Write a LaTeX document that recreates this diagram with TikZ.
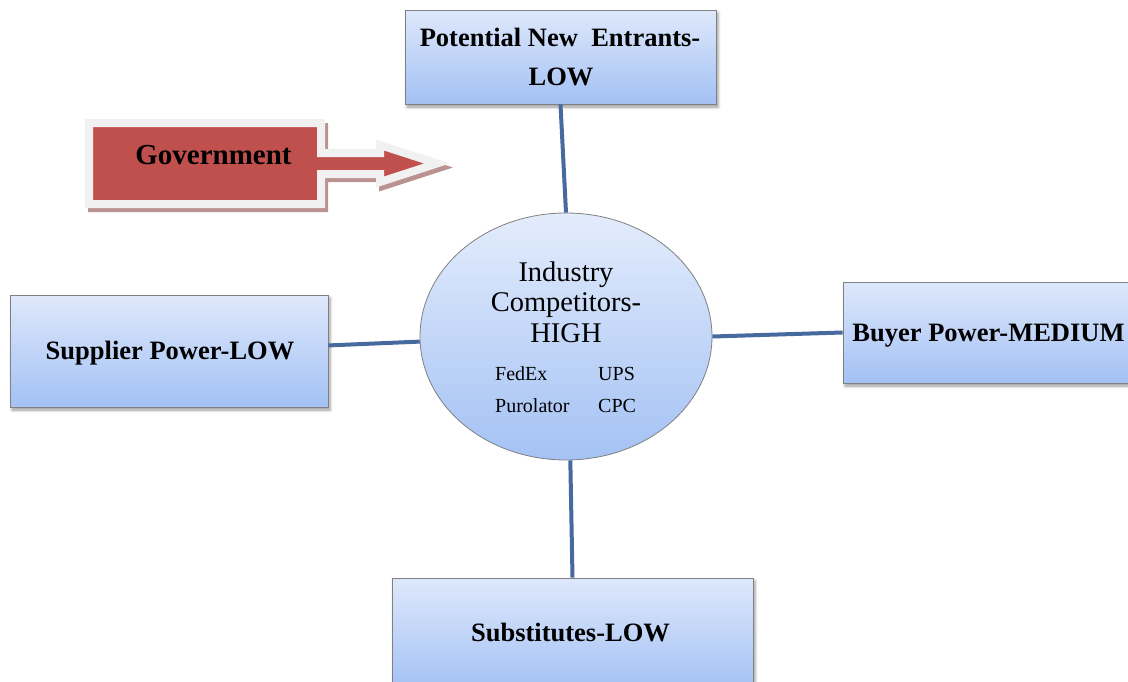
\documentclass[tikz,border=0pt]{standalone}
\usepackage{fontspec}
\setmainfont{Liberation Serif}
\usetikzlibrary{shapes.geometric,shadows.blur}
\definecolor{boxtop}{RGB}{222,232,251}
\definecolor{boxbot}{RGB}{163,193,244}
\definecolor{hubtop}{RGB}{227,236,252}
\definecolor{hubbot}{RGB}{164,194,244}
\definecolor{linkblue}{RGB}{70,106,158}
\definecolor{govred}{RGB}{192,80,77}
\definecolor{govrim}{RGB}{241,241,241}
\definecolor{govshade}{RGB}{186,146,146}
\definecolor{rimgrey}{RGB}{128,128,128}

\begin{document}
\begin{tikzpicture}[x=1pt,y=-1pt,
  forcebox/.style={rectangle, draw=rimgrey, line width=0.8pt,
    top color=boxtop, bottom color=boxbot, inner sep=0pt,
    blur shadow={shadow xshift=2pt, shadow yshift=-3pt,
      shadow blur radius=3pt, shadow opacity=40}},
  hub/.style={ellipse, draw=rimgrey, line width=0.8pt,
    top color=hubtop, bottom color=hubbot, inner sep=0pt},
  boldlabel/.style={anchor=base, inner sep=0pt,
    font=\fontsize{26.5}{38}\selectfont\bfseries},
  hublabel/.style={anchor=base, inner sep=0pt,
    font=\fontsize{28.5}{30}\selectfont},
  firmlabel/.style={anchor=base west, inner sep=0pt,
    font=\fontsize{20}{22}\selectfont},
  link/.style={draw=linkblue, line width=4pt}]
\useasboundingbox (0,0) rectangle (1128,681);
\clip (0,0) rectangle (1128,681);

% the five forces
\node[forcebox, minimum width=311pt, minimum height=94pt]  (entrants) at (560.5,57) {};
\node[forcebox, minimum width=318pt, minimum height=112pt] (supplier) at (169,351) {};
\node[forcebox, minimum width=300pt, minimum height=101pt] (buyer)    at (993,332.5) {};
\node[forcebox, minimum width=361pt, minimum height=112pt] (subst)    at (572.5,634) {};
\node[hub, minimum width=292pt, minimum height=247pt]      (hub)      at (566,336.5) {};

% spokes
\draw[link] (entrants.south) -- (hub.north);
\draw[link] (supplier.2) -- (hub.182);
\draw[link] (hub.east) -- (buyer.west);
\draw[link] (hub.-88) -- (subst.north);

% labels
\node[boldlabel] (entrantsA) at (560,46) {Potential New\ \ Entrants-};
\node[boldlabel] (entrantsB) at (561,85) {LOW};
\node[boldlabel] (supplierT) at (170,359) {Supplier Power-LOW};
\node[boldlabel] (buyerT) at (988.5,341) {Buyer Power-MEDIUM};
\node[boldlabel] (substT) at (570.5,641) {Substitutes-LOW};

\node[hublabel] (hubA) at (566,281) {Industry};
\node[hublabel] (hubB) at (566,311.5) {Competitors-};
\node[hublabel] (hubC) at (566,342) {HIGH};
\node[firmlabel] (fedex) at (495,380) {FedEx};
\node[firmlabel] (ups) at (598,380) {UPS};
\node[firmlabel] (puro) at (495,412.5) {Purolator};
\node[firmlabel] (cpc) at (598,412.5) {CPC};

% government arrow callout
\path[draw=govshade, fill=govshade, line width=8pt, line join=miter, shift={(3,4)}]
  (89,123) -- (321,123) -- (321,153) -- (380,153) -- (380,145) -- (437,163.5)
  -- (380,182) -- (380,174) -- (321,174) -- (321,204) -- (89,204) -- cycle;
\path[draw=govrim, fill=govred, line width=8pt, line join=miter]
  (89,123) -- (321,123) -- (321,153) -- (380,153) -- (380,145) -- (437,163.5)
  -- (380,182) -- (380,174) -- (321,174) -- (321,204) -- (89,204) -- cycle;
\node[anchor=base, inner sep=0pt, font=\fontsize{29}{30}\selectfont\bfseries]
  (govT) at (213.5,164) {Government};
\end{tikzpicture}
\end{document}
